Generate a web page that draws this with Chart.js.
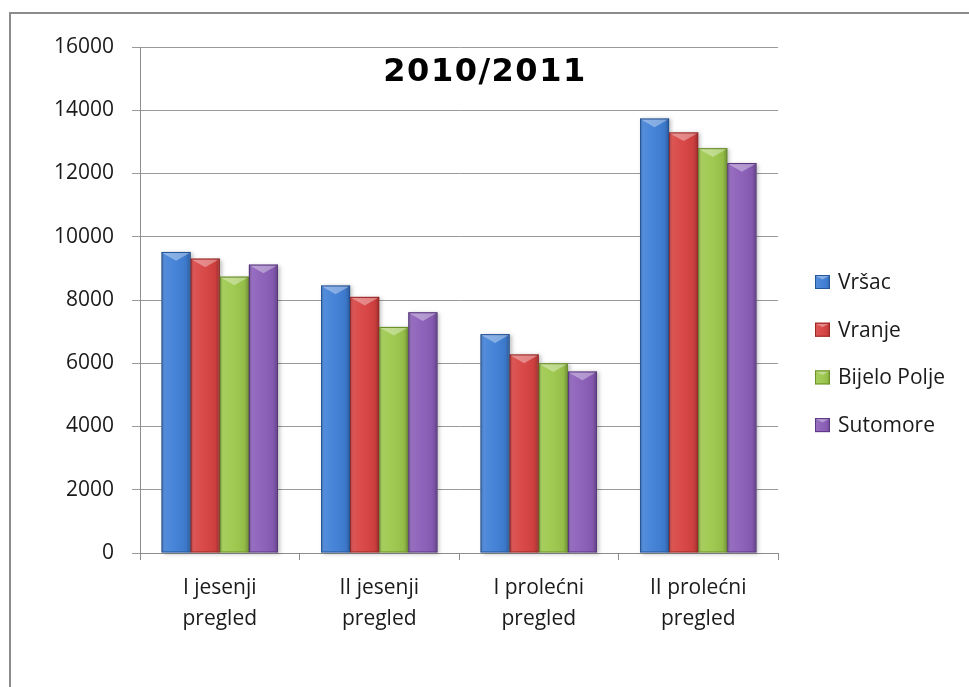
<!DOCTYPE html>
<html>
<head>
<meta charset="utf-8">
<title>2010/2011</title>
<script src="https://cdn.jsdelivr.net/npm/chart.js@4.4.1/dist/chart.umd.min.js"></script>
<style>
  html, body { margin: 0; padding: 0; background: #fff; overflow: hidden; }
  #wrap { position: relative; width: 969px; height: 687px; }
  #frame {
    position: absolute; left: 9px; top: 12px; right: 0; bottom: -10px;
    border-top: 2px solid #8c8c8c; border-left: 2px solid #8c8c8c;
  }
  #pregledi { position: absolute; left: 0; top: 0; }
</style>
</head>
<body>
<div id="wrap">
  <div id="frame"></div>
  <canvas id="pregledi" width="969" height="687"></canvas>
</div>
<script>
// ==========================
// DATA
// ==========================
const title = "2010/2011";
const categories = [
  ["I jesenji", "pregled"],
  ["II jesenji", "pregled"],
  ["I prolećni", "pregled"],
  ["II prolećni", "pregled"],
];
const seriesNames = ["Vršac", "Vranje", "Bijelo Polje", "Sutomore"];
const vrsac = [9520, 8460, 6920, 13740];
const vranje = [9310, 8100, 6280, 13300];
const bijeloPolje = [8740, 7150, 6000, 12800];
const sutomore = [9120, 7610, 5740, 12330];
const yMax = 16000;
const yStep = 2000;

// base / edge colours for every series
const BLUE = { fill: "#3f7fd6", edge: "#24569a" };
const RED = { fill: "#d74241", edge: "#9c2624" };
const GREEN = { fill: "#9cc84b", edge: "#6b9128" };
const PURPLE = { fill: "#8a5db8", edge: "#5a3783" };

document.addEventListener("DOMContentLoaded", function () {
  const FONT = "'Open Sans', 'Liberation Sans', sans-serif";
  const palette = [BLUE, RED, GREEN, PURPLE];
  const values = [vrsac, vranje, bijeloPolje, sutomore];

  const datasets = seriesNames.map((name, i) => ({
    label: name,
    data: values[i],
    backgroundColor: palette[i].fill,
    borderColor: palette[i].edge,
    borderWidth: 1,
    borderSkipped: "bottom",
  }));

  // ==========================
  // BEVEL ON THE BARS
  // ==========================
  function paintBevel(ctx, left, top, right, bottom, color) {
    const w = right - left;
    const g = ctx.createLinearGradient(left, 0, right, 0);
    g.addColorStop(0, "rgba(0,0,0,0.28)");
    g.addColorStop(0.12, "rgba(255,255,255,0.10)");
    g.addColorStop(0.45, "rgba(255,255,255,0.04)");
    g.addColorStop(0.85, "rgba(0,0,0,0.06)");
    g.addColorStop(1, "rgba(0,0,0,0.30)");
    ctx.fillStyle = g;
    ctx.fillRect(left, top, w, bottom - top);

    // lighter chevron on the top face
    const h = Math.min(w * 0.3, 9, bottom - top);
    ctx.beginPath();
    ctx.moveTo(left + 1, top + 1);
    ctx.lineTo(right - 1, top + 1);
    ctx.lineTo(left + w / 2, top + h);
    ctx.closePath();
    ctx.fillStyle = "rgba(255,255,255,0.35)";
    ctx.fill();

    ctx.strokeStyle = color;
    ctx.lineWidth = 1;
    ctx.strokeRect(left + 0.5, top + 0.5, w - 1, bottom - top - 1);
  }

  const bevelPlugin = {
    id: "bevel",
    beforeDatasetsDraw(chart) {
      // soft drop shadow behind each bar
      const ctx = chart.ctx;
      ctx.save();
      chart.data.datasets.forEach((ds, i) => {
        chart.getDatasetMeta(i).data.forEach((bar) => {
          const { x, y, base, width } = bar.getProps(["x", "y", "base", "width"], true);
          ctx.shadowColor = "rgba(0,0,0,0.25)";
          ctx.shadowBlur = 4;
          ctx.shadowOffsetX = 2;
          ctx.shadowOffsetY = 1;
          ctx.fillStyle = "#fff";
          ctx.fillRect(x - width / 2, y, width, base - y);
        });
      });
      ctx.restore();
    },
    afterDatasetsDraw(chart) {
      const ctx = chart.ctx;
      ctx.save();
      chart.data.datasets.forEach((ds, i) => {
        chart.getDatasetMeta(i).data.forEach((bar) => {
          const { x, y, base, width } = bar.getProps(["x", "y", "base", "width"], true);
          paintBevel(ctx, x - width / 2, y, x + width / 2, base, ds.borderColor);
        });
      });
      ctx.restore();
    },
  };

  // ==========================
  // TITLE + LEGEND
  // ==========================
  const titlePlugin = {
    id: "innerTitle",
    afterDraw(chart) {
      const ctx = chart.ctx;
      const area = chart.chartArea;
      ctx.save();
      ctx.font = "bold 32px 'DejaVu Sans', sans-serif";
      ctx.letterSpacing = "1.5px";
      ctx.fillStyle = "#000";
      ctx.textAlign = "center";
      ctx.textBaseline = "middle";
      ctx.fillText(title, area.left + 345, area.top + 26);
      ctx.restore();
    },
  };

  const legendPlugin = {
    id: "sideLegend",
    afterDraw(chart) {
      const ctx = chart.ctx;
      const area = chart.chartArea;
      const boxX = area.right + 37;
      const firstY = 282;
      const rowGap = 47.7;
      ctx.save();
      ctx.font = `21px ${FONT}`;
      ctx.textBaseline = "middle";
      ctx.textAlign = "left";
      chart.data.datasets.forEach((ds, i) => {
        const cy = firstY + i * rowGap;
        ctx.fillStyle = ds.backgroundColor;
        ctx.fillRect(boxX, cy - 7, 15, 14);
        paintBevel(ctx, boxX, cy - 7, boxX + 15, cy + 7, ds.borderColor);
        ctx.fillStyle = "#1a1a1a";
        ctx.fillText(ds.label, boxX + 23, cy + 1);
      });
      ctx.restore();
    },
  };

  // ==========================
  // CHART
  // ==========================
  new Chart(document.getElementById("pregledi"), {
    type: "bar",
    data: { labels: categories, datasets: datasets },
    plugins: [bevelPlugin, titlePlugin, legendPlugin],
    options: {
      responsive: false,
      animation: false,
      layout: { padding: { left: 0, right: 191, top: 47, bottom: 34 } },
      datasets: { bar: { categoryPercentage: 0.73, barPercentage: 1 } },
      plugins: { legend: { display: false }, tooltip: { enabled: false } },
      scales: {
        x: {
          afterFit: (scale) => { scale.height = 100; },
          grid: { drawOnChartArea: false, drawTicks: true, tickLength: 7, color: "#8c8c8c" },
          border: { color: "#8c8c8c", width: 1 },
          ticks: { color: "#1a1a1a", padding: 12, font: { family: FONT, size: 21, lineHeight: 1.5 } },
        },
        y: {
          min: 0,
          max: yMax,
          afterFit: (scale) => { scale.width = 140; },
          grid: { color: "#9a9a9a", tickLength: 8, lineWidth: 1 },
          border: { color: "#8c8c8c", width: 1 },
          ticks: {
            stepSize: yStep,
            color: "#1a1a1a",
            padding: 18,
            font: { family: FONT, size: 21 },
            callback: (value) => String(value),
          },
        },
      },
    },
  });
});
</script>
</body>
</html>
